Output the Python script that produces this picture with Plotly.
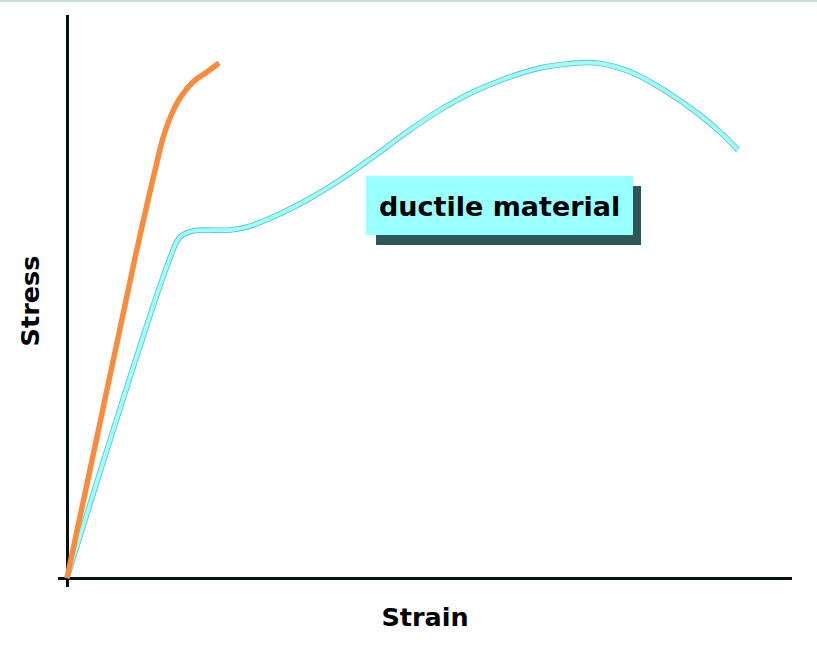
import plotly.graph_objects as go

# stress-strain curves (arbitrary units)
brittle_strain = [0, 68, 90, 96, 103, 113, 126, 140, 152]
brittle_stress = [0, 320, 416, 440, 460, 480, 496, 506, 515]

ductile_strain = [0, 103, 113, 126, 163, 180, 206, 240, 273, 306, 340, 373,
                  406, 440, 473, 500, 530, 566, 600, 633, 653, 671]
ductile_stress = [0, 320, 341, 347, 348, 351, 361, 378, 398, 421, 446, 468,
                  486, 500, 510, 514, 515, 505, 486, 463, 446, 428]

label_text = "ductile material"

FONT = "DejaVu Sans"

fig = go.Figure()

# ductile curve: darker edge underneath, light cyan on top
fig.add_trace(go.Scatter(x=ductile_strain, y=ductile_stress, mode="lines",
                         line=dict(color="#6cbcbc", width=5.5, shape="spline", smoothing=1),
                         hoverinfo="skip", showlegend=False))
fig.add_trace(go.Scatter(x=ductile_strain, y=ductile_stress, mode="lines",
                         line=dict(color="#99ffff", width=3.8, shape="spline", smoothing=1),
                         name="ductile", showlegend=False))

# brittle curve
fig.add_trace(go.Scatter(x=brittle_strain, y=brittle_stress, mode="lines",
                         line=dict(color="#fa8b3c", width=5.5, shape="spline", smoothing=1),
                         name="brittle", showlegend=False))

# label box with shadow
fig.add_shape(type="rect", x0=309, x1=574, y0=333, y1=392,
              fillcolor="#2f5656", line=dict(width=0), layer="above")
fig.add_shape(type="rect", x0=299, x1=566, y0=343, y1=402,
              fillcolor="#99ffff", line=dict(width=0), layer="above")
fig.add_annotation(x=432.5, y=371.5, text=label_text, showarrow=False,
                   font=dict(family=FONT, size=27, color="black", weight="bold"))

# thin line along the top edge
fig.add_shape(type="line", xref="paper", yref="paper", x0=-0.1, x1=1.05,
              y0=1.0245, y1=1.0245, line=dict(color="#c8dada", width=2))

fig.update_xaxes(range=[-9, 725], showgrid=False, showticklabels=False, ticks="",
                 zeroline=True, zerolinecolor="#061212", zerolinewidth=3,
                 title=dict(text="Strain", standoff=21,
                            font=dict(family=FONT, size=25.5, color="black", weight="bold")),
                 automargin=False)
fig.update_yaxes(range=[-9, 563], showgrid=False, showticklabels=False, ticks="",
                 zeroline=True, zerolinecolor="#061212", zerolinewidth=3,
                 title=dict(text="Stress", standoff=10,
                            font=dict(family=FONT, size=25.5, color="black", weight="bold")),
                 automargin=False)

fig.update_layout(width=817, height=646,
                  margin=dict(l=58, r=25, t=15, b=59),
                  plot_bgcolor="white", paper_bgcolor="white")

# drop the default page margin so the figure fills the window
fig.write_html("out.html", config={"displayModeBar": False},
               post_script="document.body.style.margin='0';document.body.style.overflow='hidden';")
